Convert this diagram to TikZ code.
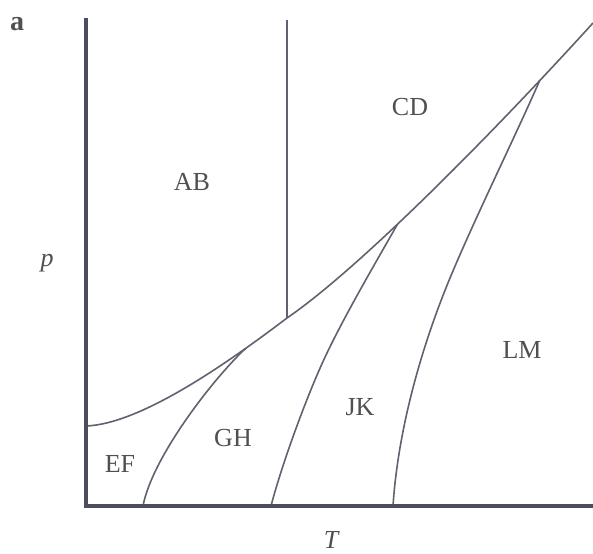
\documentclass[tikz,border=0pt]{standalone}
\usepackage{fontspec}
\setmainfont{Liberation Serif}
\definecolor{axcol}{HTML}{4A4D5E}
\definecolor{lncol}{HTML}{606270}
\definecolor{txcol}{HTML}{505050}
\begin{document}
\begin{tikzpicture}[x=1pt,y=-1pt,
  axis/.style={line width=3.2pt,draw=axcol,line cap=rect},
  bound/.style={line width=1.6pt,draw=lncol},
  lbl/.style={font=\fontsize{26}{30}\selectfont,text=txcol,inner sep=0pt}]
\useasboundingbox[fill=white] (0,0) rectangle (593,553);
\coordinate (O) at (86,506);
\coordinate (Ytop) at (86,20);
\coordinate (Xend) at (593,506);
\coordinate (L0) at (86,426);
\coordinate (V) at (287,318);
\coordinate (Vtop) at (287,20);
\coordinate (R0) at (593,23);
\coordinate (B1) at (143,506);
\coordinate (B2) at (271,506);
\coordinate (B3) at (393,506);
\coordinate (M2) at (327,353);
\coordinate (M3) at (450,278);
% main boundary with triple points on it
\draw[bound] (L0) .. controls (140,424) and (225,365) .. coordinate[pos=0.79] (P1) (V)
  .. controls (360,268) and (493,133) .. coordinate[pos=0.4] (P2) coordinate[pos=0.83] (P3) (R0);
% vertical boundary
\draw[bound] (Vtop) -- (V);
% lower boundaries
\draw[bound] (B1) .. controls (152,458) and (212,380) .. (P1);
\draw[bound] (B2) .. controls (283,460) and (310,388) .. (M2) .. controls (346,313) and (380,255) .. (P2);
\draw[bound] (B3) .. controls (398,430) and (421,348) .. (M3) .. controls (475,218) and (514,139) .. (P3);
% axes
\draw[axis] (Ytop) -- (O) -- (Xend);
% labels
\node[lbl,font=\fontsize{28}{32}\selectfont\bfseries] (a) at (17,24) {a};
\node[lbl] (AB) at (192,182) {AB};
\node[lbl] (CD) at (410,107) {CD};
\node[lbl] (EF) at (120,464) {EF};
\node[lbl] (GH) at (233,438) {GH};
\node[lbl] (JK) at (360,407) {JK};
\node[lbl] (LM) at (522,350) {LM};
\node[lbl] (p) at (47,263) {\itshape p};
\node[lbl] (T) at (331,540) {\itshape T};
\end{tikzpicture}
\end{document}
